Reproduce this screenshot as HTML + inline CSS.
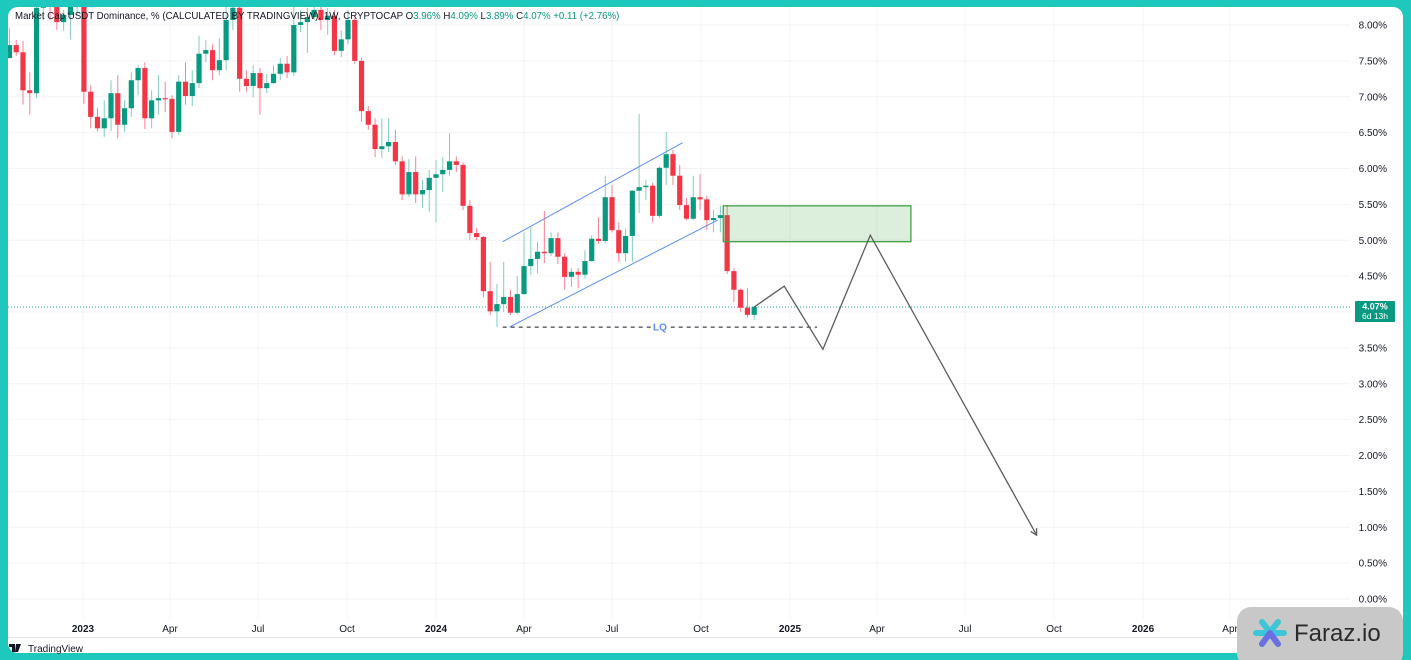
<!DOCTYPE html>
<html><head><meta charset="utf-8">
<style>
html,body{margin:0;padding:0;width:1411px;height:660px;overflow:hidden;background:#1fc8bd;}
#panel{position:absolute;left:8px;top:7px;width:1395px;height:646px;background:#fff;border-radius:10px;overflow:hidden;}
svg{position:absolute;left:0;top:0;}
text{font-family:"Liberation Sans",sans-serif;}
</style></head>
<body>
<div id="panel"></div>
<svg id="chart" width="1411" height="660"></svg>
<script>
const startDate = "2022-10-17";
const firstOpen = 7.54;
const closes = [7.72,7.62,7.09,7.05,8.24,8.42,8.35,8.04,8.14,8.26,8.35,7.07,6.72,6.56,6.70,7.05,6.61,6.84,7.23,7.40,6.70,6.95,6.98,6.97,6.51,7.21,7.01,7.19,7.60,7.65,7.37,7.51,8.07,8.24,7.25,7.15,7.33,7.12,7.19,7.32,7.46,7.34,8.00,8.04,8.11,8.21,8.07,8.13,7.64,7.80,8.07,7.50,6.80,6.61,6.27,6.31,6.37,6.10,5.64,5.95,5.64,5.70,5.87,5.92,5.98,6.10,6.05,5.48,5.10,5.045,4.29,4.01,4.11,4.21,3.99,4.25,4.64,4.74,4.84,4.82,5.03,4.77,4.49,4.56,4.52,4.71,5.02,4.99,5.60,5.14,4.82,5.06,5.69,5.74,5.76,5.34,6.01,6.20,5.90,5.49,5.30,5.60,5.57,5.28,5.31,5.35,4.57,4.31,4.06,3.96,4.07];
const highs = [7.96,7.79,7.78,7.34,8.49,8.56,8.52,8.42,8.21,8.35,8.49,8.42,7.16,6.84,6.95,7.23,7.30,6.95,7.34,7.44,7.48,7.09,7.30,7.21,7.02,7.30,7.48,7.37,7.85,7.79,7.73,7.82,8.28,8.42,8.28,7.37,7.44,7.40,7.32,7.44,7.54,7.57,8.28,8.21,8.24,8.35,8.35,8.24,8.21,7.93,8.21,8.10,7.54,6.87,6.70,6.70,6.70,6.54,6.17,6.13,6.17,5.84,5.98,6.12,6.16,6.49,6.17,6.08,5.56,5.17,5.06,4.70,4.39,4.70,4.31,4.50,5.11,5.18,4.98,5.41,5.11,5.11,4.82,4.61,4.61,4.86,5.07,5.32,5.90,5.77,5.25,5.16,5.70,6.76,5.84,5.80,6.03,6.51,6.26,6.05,5.59,5.90,5.92,5.62,5.42,5.48,5.49,4.61,4.33,4.33,4.09];
const lows = [7.54,7.57,6.89,6.75,6.98,8.07,8.07,7.93,7.92,7.80,8.14,6.90,6.56,6.52,6.44,6.52,6.42,6.51,6.72,7.02,6.55,6.56,6.75,6.79,6.42,6.47,6.89,6.87,7.12,7.48,7.23,7.30,7.37,7.93,7.07,7.07,6.99,6.75,7.05,7.18,7.23,7.26,7.29,7.90,7.61,8.07,7.93,7.86,7.58,7.55,7.73,7.46,6.65,6.54,6.16,6.15,6.23,6.05,5.56,5.60,5.52,5.45,5.39,5.25,5.67,5.90,5.95,5.42,5.00,5.00,4.21,3.96,3.79,4.00,3.96,3.97,4.24,4.52,4.54,4.68,4.78,4.67,4.31,4.35,4.33,4.47,4.70,4.95,4.96,5.11,4.70,4.70,4.70,5.38,5.56,5.25,5.31,5.77,5.77,5.42,5.28,5.28,5.42,5.14,5.11,5.11,4.53,4.14,4.00,3.92,3.89];
const yTicks = [0,0.5,1,1.5,2,2.5,3,3.5,4,4.5,5,5.5,6,6.5,7,7.5,8];
const xTickDates = ["2023-01-01","2023-04-01","2023-07-01","2023-10-01","2024-01-01","2024-04-01","2024-07-01","2024-10-01","2025-01-01","2025-04-01","2025-07-01","2025-10-01","2026-01-01","2026-04-01"];
const xTickLabels = ["2023","Apr","Jul","Oct","2024","Apr","Jul","Oct","2025","Apr","Jul","Oct","2026","Apr"];
const zigzag = [["2024-11-25",4.07],["2024-12-26",4.36],["2025-02-04",3.48],["2025-03-25",5.07],["2025-09-13",0.89]];
const zone = {from:"2024-10-24",to:"2025-05-06",top:5.48,bottom:4.98};
const channelUpper = [["2024-03-10",4.98],["2024-09-12",6.36]];
const channelLower = [["2024-03-17",3.79],["2024-10-18",5.28]];
const lqLine = {from:"2024-03-10",to:"2025-01-29",price:3.79};
const lastPrice = 4.07;

const NS="http://www.w3.org/2000/svg";
const svg=document.getElementById('chart');
const DAY=86400000, base=Date.UTC(2024,0,1);
function days(d){const p=d.split('-');return (Date.UTC(+p[0],p[1]-1,+p[2])-base)/DAY;}
function xD(d){return 436+days(d)*0.9672;}
function y(v){return 599-71.75*v;}
function el(tag,attrs,parent){const e=document.createElementNS(NS,tag);for(const k in attrs)e.setAttribute(k,attrs[k]);(parent||svg).appendChild(e);return e;}

const defs=el('defs',{});
const cp=el('clipPath',{id:'plot'},defs);
el('rect',{x:8,y:7,width:1342,height:612},cp);

const grid=el('g',{});


yTicks.forEach(v=>{
  const l=el('line',{x1:8,x2:1350,y1:y(v),y2:y(v),stroke:'#f2f3f5','stroke-width':1},grid);
  
  
  const t=el('text',{x:1387,y:y(v)+3.5,'font-size':10,fill:'#131722','text-anchor':'end'});
  t.textContent=v.toFixed(2)+'%';
  
  
});
xTickDates.forEach((d,i)=>{
  const x=xD(d);
  const l=el('line',{x1:x,x2:x,y1:7,y2:618,stroke:'#f2f3f5','stroke-width':1},grid);
  
  
  const t=el('text',{x:x,y:632,'font-size':10,fill:'#131722','text-anchor':'middle','font-weight':xTickLabels[i].length===4?'bold':'normal'});
  t.textContent=xTickLabels[i];
  
  
});
el('line',{x1:8,x2:1403,y1:637.5,y2:637.5,stroke:'#e0e3eb'});

const pl=el('line',{x1:8,x2:1352,y1:y(lastPrice),y2:y(lastPrice),stroke:'#26a69a','stroke-width':1,'stroke-dasharray':'1 2'});



const cg=el('g',{'clip-path':'url(#plot)'});


const N=closes.length;
const sp=new Date(Date.UTC(2022,9,17));
for(let i=0;i<N;i++){
  const dd=new Date(sp.getTime()+i*7*DAY).toISOString().slice(0,10);
  const x=xD(dd);
  const o=i===0?firstOpen:closes[i-1], c=closes[i];
  const up=c>=o, col=up?'#089981':'#f23645', wcol=up?'#7fcdbf':'#f7818f';
  const hi=Math.max(highs[i],o,c), lo=Math.min(lows[i],o,c);
  const w=el('line',{x1:x,x2:x,y1:y(hi),y2:y(lo),stroke:wcol,'stroke-width':1},cg);
  
  
  const top=y(Math.max(o,c)), h=Math.max(1.2,Math.abs(y(o)-y(c)));
  const b=el('rect',{x:x-2.6,y:top,width:5.2,height:h,fill:col},cg);
  
  
}

const dg=el('g',{'clip-path':'url(#plot)'});
const z=el('rect',{x:xD(zone.from),y:y(zone.top),width:xD(zone.to)-xD(zone.from),height:y(zone.bottom)-y(zone.top),fill:'rgba(76,175,80,0.2)',stroke:'#43a047','stroke-width':1.3},dg);


[channelUpper,channelLower].forEach((c,k)=>{
  const l=el('line',{x1:xD(c[0][0]),y1:y(c[0][1]),x2:xD(c[1][0]),y2:y(c[1][1]),stroke:'#5b8def','stroke-width':1},dg);
  
  
});
const lq=el('line',{x1:xD(lqLine.from),x2:xD(lqLine.to),y1:y(lqLine.price),y2:y(lqLine.price),stroke:'#131722','stroke-width':1,'stroke-dasharray':'4 4'},dg);


el('rect',{x:651,y:y(lqLine.price)-6,width:18,height:11,fill:'#fff'},dg);
const lqt=el('text',{x:660,y:y(lqLine.price)+3.5,'font-size':10,'font-weight':'bold',fill:'#5b8def','text-anchor':'middle'},dg);
lqt.textContent='LQ';


const pts=zigzag.map(p=>xD(p[0]).toFixed(1)+','+y(p[1]).toFixed(1)).join(' ');
const zz=el('polyline',{points:pts,fill:'none',stroke:'#5d5d5d','stroke-width':1.3},dg);


const L=zigzag[zigzag.length-1], P=zigzag[zigzag.length-2];
const ex=xD(L[0]),ey=y(L[1]),px=xD(P[0]),py=y(P[1]);
const ang=Math.atan2(ey-py,ex-px);
const ah=el('polyline',{points:`${ex-7*Math.cos(ang-0.5)},${ey-7*Math.sin(ang-0.5)} ${ex},${ey} ${ex-7*Math.cos(ang+0.5)},${ey-7*Math.sin(ang+0.5)}`,fill:'none',stroke:'#5d5d5d','stroke-width':1.3},dg);



const pg=el('g',{});


el('rect',{x:1355,y:y(lastPrice)-6,width:40,height:21,fill:'#089981',rx:1},pg);
const t1=el('text',{x:1375,y:y(lastPrice)+2.5,'font-size':9,'font-weight':'bold',fill:'#fff','text-anchor':'middle'},pg);t1.textContent=lastPrice.toFixed(2)+'%';
const t2=el('text',{x:1375,y:y(lastPrice)+12,'font-size':8.5,fill:'#fff','text-anchor':'middle'},pg);t2.textContent='6d 13h';

const hd=el('text',{x:15,y:19,'font-size':9.7,fill:'#131722'});


hd.setAttribute('xml:space','preserve');
hd.innerHTML='Market Cap USDT Dominance, % (CALCULATED BY TRADINGVIEW), 1W, CRYPTOCAP   <tspan>O</tspan><tspan fill="#089981">3.96%</tspan>   <tspan>H</tspan><tspan fill="#089981">4.09%</tspan>   <tspan>L</tspan><tspan fill="#089981">3.89%</tspan>   <tspan>C</tspan><tspan fill="#089981">4.07%   +0.11 (+2.76%)</tspan>';

const tv=el('text',{x:28,y:652,'font-size':10,fill:'#131722'});tv.textContent='TradingView';


el('path',{d:'M9 644h6v8h-3v-5h-3z M16 644h5l-3 8h-3z',fill:'#131722'});

const wm=el('g',{});


el('rect',{x:1237,y:607,width:166,height:60,rx:14,fill:'#c8c8c8'},wm);
el('path',{d:'M1262 622l8 10 M1278 622l-8 10 M1256 633h28 M1262 644l8-11 M1278 644l-8-11',stroke:'#3ec6d8','stroke-width':6,'stroke-linecap':'round'},wm);
el('path',{d:'M1270 633l-8 11 M1270 633l8 11',stroke:'#6b6fe0','stroke-width':6,'stroke-linecap':'round'},wm);
const wt=el('text',{x:1294,y:641,'font-size':24,fill:'#2b2b2b'},wm);wt.textContent='Faraz.io';
</script>
</body></html>
